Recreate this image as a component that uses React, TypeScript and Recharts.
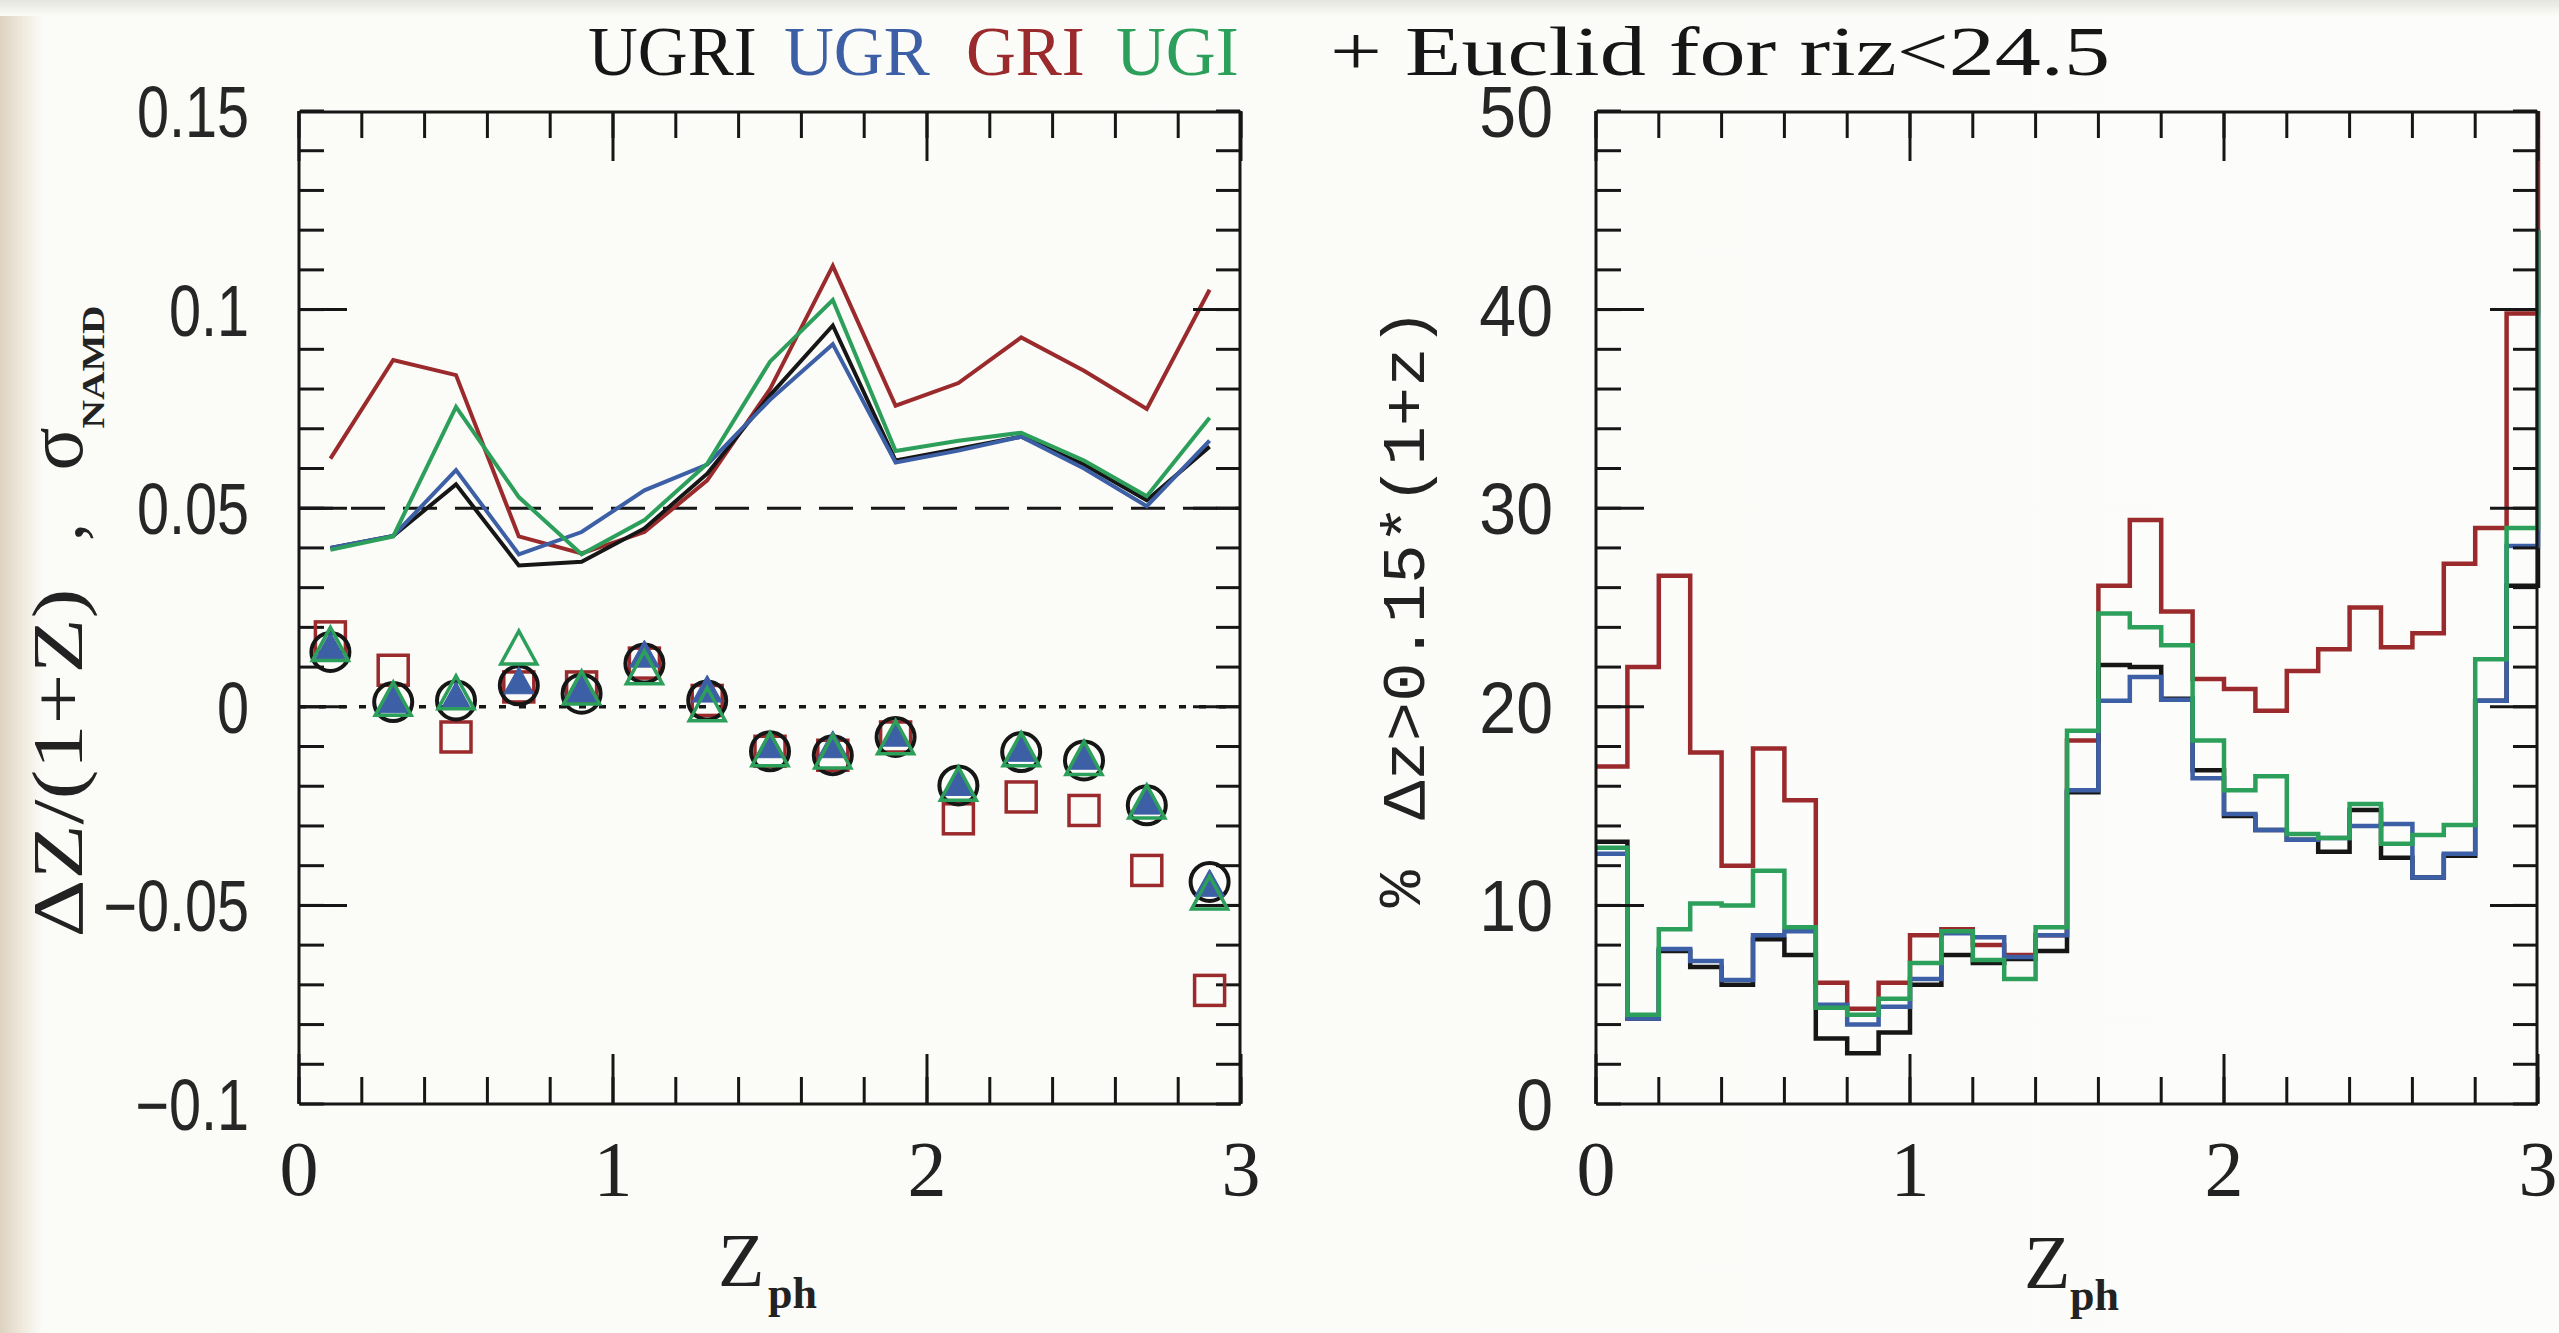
import React from 'react'
import {
  ComposedChart,
  Line,
  Scatter,
  XAxis,
  YAxis,
  ReferenceLine,
} from 'recharts'

// photometric redshift bins (centres) for the left panel
const Z_MID = [0.1, 0.3, 0.5, 0.7, 0.9, 1.1, 1.3, 1.5, 1.7, 1.9, 2.1, 2.3, 2.5, 2.7, 2.9]

// sigma_NAMD per filter set
const SIGMA_UGRI = [0.04, 0.043, 0.056, 0.0356, 0.0365, 0.0449, 0.0587, 0.0784, 0.096, 0.062, 0.065, 0.068, 0.061, 0.052, 0.0655]
const SIGMA_UGR = [0.04, 0.043, 0.0596, 0.0384, 0.044, 0.0545, 0.061, 0.0773, 0.0913, 0.0615, 0.0645, 0.068, 0.06, 0.0505, 0.067]
const SIGMA_GRI = [0.0625, 0.0873, 0.0835, 0.0429, 0.0386, 0.044, 0.057, 0.08, 0.111, 0.0758, 0.0815, 0.093, 0.0846, 0.075, 0.105]
const SIGMA_UGI = [0.0395, 0.0429, 0.0755, 0.0528, 0.0384, 0.047, 0.0612, 0.0869, 0.1024, 0.0644, 0.067, 0.069, 0.062, 0.053, 0.0728]

// mean bias dz/(1+z) per filter set
const BIAS_UGRI = [0.0138, 0.0012, 0.0016, 0.0054, 0.0033, 0.0109, 0.0016, -0.0112, -0.0122, -0.0076, -0.0198, -0.0114, -0.0135, -0.0248, -0.0441]
const BIAS_UGR = [0.0145, 0.001, 0.002, 0.0058, 0.0037, 0.0125, 0.0037, -0.0103, -0.0103, -0.0074, -0.0198, -0.0112, -0.0132, -0.0245, -0.0452]
const BIAS_GRI = [0.0176, 0.0092, -0.0076, 0.005, 0.005, 0.011, 0.0016, -0.0112, -0.0122, -0.0076, -0.0282, -0.0227, -0.0261, -0.0412, -0.0714]
const BIAS_UGI = [0.0147, 0.0009, 0.0025, 0.0138, 0.0037, 0.0088, -0.0005, -0.0118, -0.0124, -0.0088, -0.0205, -0.0118, -0.014, -0.025, -0.0479]

// histogram bin starts for the right panel (last entry = overflow edge at z=3)
const Z_EDGE = [0, 0.1, 0.2, 0.3, 0.4, 0.5, 0.6, 0.7, 0.8, 0.9, 1.0, 1.1, 1.2, 1.3, 1.4, 1.5, 1.6, 1.7, 1.8, 1.9, 2.0, 2.1, 2.2, 2.3, 2.4, 2.5, 2.6, 2.7, 2.8, 2.9, 3.0]

// % outliers with |dz| > 0.15(1+z)
const OUT_UGRI = [13.2, 4.3, 7.7, 6.9, 6.0, 8.3, 7.5, 3.3, 2.55, 3.6, 6.0, 7.5, 7.1, 7.3, 7.7, 15.7, 22.1, 22.0, 20.4, 16.8, 14.5, 13.8, 13.3, 12.7, 14.8, 12.4, 11.4, 12.5, 20.3, 26.1, 44]
const OUT_UGR = [12.6, 4.3, 7.8, 7.2, 6.25, 8.5, 8.7, 5.0, 4.0, 4.9, 6.3, 8.6, 8.4, 7.4, 8.5, 15.8, 20.3, 21.5, 20.35, 16.4, 14.6, 13.8, 13.3, 13.4, 14.0, 14.1, 11.4, 12.6, 20.3, 28.1, 44]
const OUT_GRI = [17.0, 22.0, 26.6, 17.7, 12.0, 17.9, 15.3, 6.1, 4.8, 6.1, 8.5, 8.8, 8.0, 7.5, 8.5, 18.3, 26.1, 29.4, 24.8, 21.4, 20.9, 19.8, 21.8, 22.9, 25.0, 23.0, 23.7, 27.2, 29.0, 39.8, 50]
const OUT_UGI = [12.9, 4.5, 8.8, 10.1, 10.0, 11.75, 8.9, 4.85, 4.5, 5.3, 7.1, 8.7, 7.25, 6.3, 8.9, 18.8, 24.7, 24.0, 23.1, 18.3, 15.8, 16.5, 13.6, 13.4, 15.1, 13.1, 13.55, 14.05, 22.4, 29.0, 44]

// tick labels
const X_TICKS = [0, 1, 2, 3]
const X_LABELS = ['0', '1', '2', '3']
const LEFT_Y_TICKS = [-0.1, -0.05, 0, 0.05, 0.1, 0.15]
const LEFT_Y_LABELS = ['\u22120.1', '\u22120.05', '0', '0.05', '0.1', '0.15']
const RIGHT_Y_TICKS = [0, 10, 20, 30, 40, 50]
const RIGHT_Y_LABELS = ['0', '10', '20', '30', '40', '50']

const INK = '#161616'
const C_UGRI = '#161616'
const C_UGR = '#3d5fa6'
const C_GRI = '#9a2a2c'
const C_UGI = '#2c9f5a'

const SANS = "'Liberation Sans', Arial, sans-serif"
const SERIF = "'Liberation Serif', 'DejaVu Serif', serif"
const MONO = "'Liberation Mono', 'DejaVu Sans Mono', monospace"

const leftData = Z_MID.map((z, i) => ({
  z,
  sUGRI: SIGMA_UGRI[i],
  sUGR: SIGMA_UGR[i],
  sGRI: SIGMA_GRI[i],
  sUGI: SIGMA_UGI[i],
  bUGRI: BIAS_UGRI[i],
  bUGR: BIAS_UGR[i],
  bGRI: BIAS_GRI[i],
  bUGI: BIAS_UGI[i],
}))

const rightData = Z_EDGE.map((z, i) => ({
  z,
  UGRI: OUT_UGRI[i],
  UGR: OUT_UGR[i],
  GRI: OUT_GRI[i],
  UGI: OUT_UGI[i],
}))

const range = (from: number, to: number, step: number) => {
  const out: number[] = []
  for (let v = from; v <= to + step / 2; v += step) out.push(Math.round(v * 1000) / 1000)
  return out
}

const tickStroke = { stroke: INK, strokeWidth: 3 }
const NoLabel = () => <g />

// inward PGPLOT-style ticks on all four sides, drawn by mirrored axes
function frameAxes(yDomain: [number, number], xMinor: number[], yMajor: number[], yMinor: number[]) {
  const base = {
    type: 'number' as const,
    tick: NoLabel,
    mirror: true,
    interval: 0 as const,
    allowDataOverflow: true,
    tickLine: tickStroke,
  }
  const xb = { ...base, dataKey: 'z', domain: [0, 3] as [number, number], height: 1 }
  return [
    <XAxis key="xbm" xAxisId="xbm" orientation="bottom" ticks={xMinor} tickSize={26} axisLine={false} {...xb} />,
    <XAxis key="xbM" xAxisId="xbM" orientation="bottom" ticks={X_TICKS} tickSize={50} axisLine={false} {...xb} />,
    <XAxis key="xtm" xAxisId="xtm" orientation="top" ticks={xMinor} tickSize={26} axisLine={tickStroke} {...xb} />,
    <XAxis key="xtM" xAxisId="xtM" orientation="top" ticks={X_TICKS} tickSize={50} axisLine={false} {...xb} />,
    <YAxis key="ylM" yAxisId="ylM" orientation="left" width={1} domain={yDomain} ticks={yMajor} tickSize={48} axisLine={false} {...base} />,
    <YAxis key="ylm" yAxisId="ylm" orientation="left" width={1} domain={yDomain} ticks={yMinor} tickSize={24} axisLine={false} {...base} />,
    <YAxis key="yrM" yAxisId="yrM" orientation="right" width={1} domain={yDomain} ticks={yMajor} tickSize={48} axisLine={false} {...base} />,
    <YAxis key="yrm" yAxisId="yrm" orientation="right" width={1} domain={yDomain} ticks={yMinor} tickSize={24} axisLine={tickStroke} {...base} />,
  ]
}

// narrow sans tick labels (PGPLOT look)
function makeYTick(ticks: number[], labels: string[], squeeze: number) {
  return (p: any) => {
    const i = ticks.indexOf(p.payload.value)
    return (
      <g transform={`translate(${p.x},${p.y})`}>
        <text
          transform={`scale(${squeeze},1)`}
          textAnchor="end"
          dy="0.36em"
          fontSize={72}
          fontFamily={SANS}
          fill="#262626"
        >
          {labels[i]}
        </text>
      </g>
    )
  }
}

const openCircle = (p: any) => (
  <circle cx={p.cx} cy={p.cy} r={19} fill="none" stroke={C_UGRI} strokeWidth={4} />
)
const openSquare = (p: any) => (
  <rect x={p.cx - 15} y={p.cy - 15} width={30} height={30} fill="none" stroke={C_GRI} strokeWidth={3.5} />
)
const filledTriangle = (p: any) => (
  <polygon
    points={`${p.cx},${p.cy - 17} ${p.cx - 15},${p.cy + 10} ${p.cx + 15},${p.cy + 10}`}
    fill={C_UGR}
    stroke={C_UGR}
    strokeWidth={1}
  />
)
const openTriangle = (p: any) => (
  <polygon
    points={`${p.cx},${p.cy - 21} ${p.cx - 18},${p.cy + 12} ${p.cx + 18},${p.cy + 12}`}
    fill="none"
    stroke={C_UGI}
    strokeWidth={3.5}
  />
)

const xTickStyle = { fontSize: 78, fontFamily: SERIF, fill: '#222' }

function LeftPanel() {
  const minorX = range(0, 3, 0.2)
  const minorY = range(-0.1, 0.15, 0.01)
  return (
    <ComposedChart width={1280} height={1333} data={leftData} margin={{ top: 111, right: 39, bottom: 109, left: 59 }}>
      <XAxis
        xAxisId="main"
        dataKey="z"
        type="number"
        domain={[0, 3]}
        ticks={X_TICKS}
        interval={0}
        tickFormatter={(v: number) => X_LABELS[X_TICKS.indexOf(v)]}
        tickLine={false}
        tickSize={0}
        tickMargin={36}
        height={120}
        axisLine={tickStroke}
        tick={xTickStyle}
      />
      <YAxis
        yAxisId="main"
        type="number"
        domain={[-0.1, 0.15]}
        ticks={LEFT_Y_TICKS}
        interval={0}
        tickLine={false}
        tickSize={0}
        tickMargin={50}
        width={240}
        axisLine={tickStroke}
        tick={makeYTick(LEFT_Y_TICKS, LEFT_Y_LABELS, 0.8)}
      />
      {frameAxes([-0.1, 0.15], minorX, [-0.05, 0, 0.05, 0.1], minorY)}
      <ReferenceLine xAxisId="main" yAxisId="main" y={0.05} stroke={INK} strokeWidth={3} strokeDasharray="34 18" />
      <ReferenceLine xAxisId="main" yAxisId="main" y={0} stroke={INK} strokeWidth={3.5} strokeDasharray="7 13" />
      <Line xAxisId="main" yAxisId="main" dataKey="sGRI" type="linear" stroke={C_GRI} strokeWidth={4} dot={false} isAnimationActive={false} />
      <Line xAxisId="main" yAxisId="main" dataKey="sUGRI" type="linear" stroke={C_UGRI} strokeWidth={4} dot={false} isAnimationActive={false} />
      <Line xAxisId="main" yAxisId="main" dataKey="sUGR" type="linear" stroke={C_UGR} strokeWidth={4} dot={false} isAnimationActive={false} />
      <Line xAxisId="main" yAxisId="main" dataKey="sUGI" type="linear" stroke={C_UGI} strokeWidth={4} dot={false} isAnimationActive={false} />
      <Scatter xAxisId="main" yAxisId="main" dataKey="bGRI" shape={openSquare} isAnimationActive={false} />
      <Scatter xAxisId="main" yAxisId="main" dataKey="bUGRI" shape={openCircle} isAnimationActive={false} />
      <Scatter xAxisId="main" yAxisId="main" dataKey="bUGR" shape={filledTriangle} isAnimationActive={false} />
      <Scatter xAxisId="main" yAxisId="main" dataKey="bUGI" shape={openTriangle} isAnimationActive={false} />
    </ComposedChart>
  )
}

function RightPanel() {
  const minorX = range(0, 3, 0.2)
  const minorY = range(0, 50, 2)
  return (
    <ComposedChart width={1279} height={1333} data={rightData} margin={{ top: 111, right: 21, bottom: 109, left: 76 }}>
      <XAxis
        xAxisId="main"
        dataKey="z"
        type="number"
        domain={[0, 3]}
        ticks={X_TICKS}
        interval={0}
        tickFormatter={(v: number) => X_LABELS[X_TICKS.indexOf(v)]}
        tickLine={false}
        tickSize={0}
        tickMargin={36}
        height={120}
        axisLine={tickStroke}
        tick={xTickStyle}
      />
      <YAxis
        yAxisId="main"
        type="number"
        domain={[0, 50]}
        ticks={RIGHT_Y_TICKS}
        interval={0}
        tickLine={false}
        tickSize={0}
        tickMargin={43}
        width={240}
        axisLine={tickStroke}
        tick={makeYTick(RIGHT_Y_TICKS, RIGHT_Y_LABELS, 0.92)}
      />
      {frameAxes([0, 50], minorX, [10, 20, 30, 40], minorY)}
      <Line xAxisId="main" yAxisId="main" dataKey="GRI" type="stepAfter" stroke={C_GRI} strokeWidth={4.5} dot={false} isAnimationActive={false} />
      <Line xAxisId="main" yAxisId="main" dataKey="UGRI" type="stepAfter" stroke={C_UGRI} strokeWidth={4.5} dot={false} isAnimationActive={false} />
      <Line xAxisId="main" yAxisId="main" dataKey="UGR" type="stepAfter" stroke={C_UGR} strokeWidth={4.5} dot={false} isAnimationActive={false} />
      <Line xAxisId="main" yAxisId="main" dataKey="UGI" type="stepAfter" stroke={C_UGI} strokeWidth={4.5} dot={false} isAnimationActive={false} />
    </ComposedChart>
  )
}

function Labels() {
  return (
    <svg width={2559} height={1333} style={{ position: 'absolute', left: 0, top: 0, pointerEvents: 'none' }}>
      {/* title, coloured per filter set */}
      <g fontFamily={SERIF} fontSize={69}>
        <text x={588} y={75} fill={C_UGRI}>UGRI</text>
        <text x={784} y={75} fill={C_UGR}>UGR</text>
        <text x={966} y={75} fill={C_GRI}>GRI</text>
        <text x={1116} y={75} fill={C_UGI}>UGI</text>
        <text x={1330} y={75} fill={INK} textLength={780} lengthAdjust="spacingAndGlyphs">+ Euclid for riz&lt;24.5</text>
      </g>

      {/* left y label: dZ/(1+Z) , sigma_NAMD */}
      <g fill="#222">
        <text transform="translate(82,763) rotate(-90)" textAnchor="middle" fontFamily={SERIF} fontSize={72} textLength={349} lengthAdjust="spacingAndGlyphs">
          ΔZ/(1+Z)
        </text>
        <text transform="translate(82,532) rotate(-90)" textAnchor="middle" fontFamily={SERIF} fontSize={72}>,</text>
        <text transform="translate(82,449) rotate(-90)" textAnchor="middle" fontFamily={SERIF} fontSize={80}>σ</text>
        <text transform="translate(104,367) rotate(-90)" textAnchor="middle" fontFamily={SERIF} fontSize={32} fontWeight="bold" textLength={123} lengthAdjust="spacingAndGlyphs">
          NAMD
        </text>
      </g>

      {/* right y label */}
      <g fill="#222" fontFamily={MONO}>
        <text transform="translate(1420,889) rotate(-90)" textAnchor="middle" fontSize={62}>%</text>
        <text transform="translate(1424,564) rotate(-90)" textAnchor="middle" fontSize={62} textLength={512} lengthAdjust="spacingAndGlyphs">
          Δz&gt;0.15*(1+z)
        </text>
      </g>

      {/* x labels */}
      <g fill="#222" fontFamily={SERIF}>
        <text x={718} y={1286} fontSize={76}>Z</text>
        <text x={768} y={1308} fontSize={44} fontWeight="bold">ph</text>
        <text x={2024} y={1288} fontSize={76}>Z</text>
        <text x={2070} y={1310} fontSize={44} fontWeight="bold">ph</text>
      </g>
    </svg>
  )
}

export default function App() {
  return (
    <div
      style={{
        position: 'absolute',
        left: 0,
        top: 0,
        width: 2559,
        height: 1333,
        overflow: 'hidden',
        background: 'linear-gradient(to right, #ddd2bf 0px, #efe9dd 22px, #fbfbf8 42px, #fcfcfa 100%)',
      }}
    >
      <div style={{ position: 'absolute', left: 0, top: 0, width: 2559, height: 16, background: 'linear-gradient(to bottom, #e6e6e0, #fbfbf8)' }} />
      <div style={{ position: 'absolute', left: 0, top: 0 }}>
        <LeftPanel />
      </div>
      <div style={{ position: 'absolute', left: 1280, top: 0 }}>
        <RightPanel />
      </div>
      <Labels />
    </div>
  )
}
